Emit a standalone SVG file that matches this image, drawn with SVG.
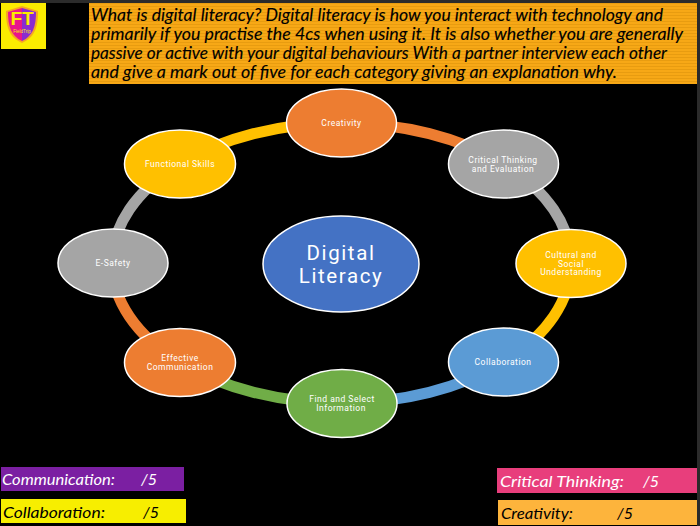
<svg xmlns="http://www.w3.org/2000/svg" width="700" height="526" viewBox="0 0 700 526">
<style>
.n{stroke:#fff;stroke-width:1.5}
.l{font-family:"Roboto","Liberation Sans",sans-serif;font-size:8.500px;font-weight:400;fill:#fff;text-anchor:middle;letter-spacing:.5px}
.c{font-family:"Roboto","Liberation Sans",sans-serif;font-size:20.500px;fill:#fff;text-anchor:middle;letter-spacing:1.600px}
.h{font-family:"Lato","Noto Sans",sans-serif;font-size:16.500px;fill:#000;font-style:italic;stroke:#000;stroke-width:.12}
.s{font-family:"Lato","Noto Sans",sans-serif;font-size:16px;font-style:italic}
.a{fill:none;stroke-width:11}
</style>
<defs>
<pattern id="st" width="4" height="3" patternUnits="userSpaceOnUse"><rect width="4" height="3" fill="#f7a816"/><rect width="4" height="1" fill="#e89c10"/></pattern>
</defs>
<rect width="700" height="526" fill="#000"/>
<rect width="700" height="3" fill="#2b2b2b"/>
<rect x="697" width="3" height="526" fill="#2b2b2b"/>
<g id="logo">
<rect x="1" y="3" width="45" height="46" fill="#fbec00"/>
<path d="M22 6 L38 11 C38 27 35 37 22 43 C9 37 6 27 6 11 Z" fill="#f6a623"/>
<path d="M22 8 L22 41 C11 36 8 26 8 12 Z" fill="#e8148c"/>
<path d="M22 8 L36 12 C36 26 33 36 22 41 Z" fill="#8a2bd0"/>
<text x="22" y="25" font-family="Liberation Sans,sans-serif" font-size="19" font-weight="700" fill="#fbec00" text-anchor="middle">FT<tspan x="22" y="32.500" font-size="4.500" font-weight="400">FieldTrip</tspan></text>
</g>
<g id="intro">
<rect x="89" y="3" width="608" height="81" fill="url(#st)"/>
<text class="h" x="91" y="21" textLength="572" lengthAdjust="spacingAndGlyphs">What is digital literacy? Digital literacy is how you interact with technology and</text>
<text class="h" x="91" y="40" textLength="592" lengthAdjust="spacingAndGlyphs">primarily if you practise the 4cs when using it. It is also whether you are generally</text>
<text class="h" x="91" y="59" textLength="576" lengthAdjust="spacingAndGlyphs">passive or active with your digital behaviours With a partner interview each other</text>
<text class="h" x="91" y="78" textLength="526" lengthAdjust="spacingAndGlyphs">and give a mark out of five for each category giving an explanation why.</text>
</g>
<g id="connectors">
<path class="a" stroke="#ed7d31" d="M341.500 123 A229.500 140 0 0 1 503.800 164"/>
<path class="a" stroke="#a5a5a5" d="M503.800 164 A229.500 140 0 0 1 571 263"/>
<path class="a" stroke="#ffc000" d="M571 263 A229.500 140 0 0 1 503.800 362"/>
<path class="a" stroke="#5b9bd5" d="M503.800 362 A229.500 140 0 0 1 341.500 403"/>
<path class="a" stroke="#70ad47" d="M341.500 403 A229.500 140 0 0 1 179.200 362"/>
<path class="a" stroke="#ed7d31" d="M179.200 362 A229.500 140 0 0 1 112 263"/>
<path class="a" stroke="#a5a5a5" d="M112 263 A229.500 140 0 0 1 179.200 164"/>
<path class="a" stroke="#ffc000" d="M179.200 164 A229.500 140 0 0 1 341.500 123"/>
</g>
<g id="center"><ellipse class="n" cx="341" cy="264" rx="78" ry="48" fill="#4472c4"/>
<text class="c" x="341" y="260">Digital<tspan x="341" y="283">Literacy</tspan></text></g>
<g id="creativity"><ellipse class="n" cx="341.500" cy="123" rx="55" ry="34" fill="#ed7d31"/><text class="l" x="341.500" y="126">Creativity</text></g>
<g id="critical"><ellipse class="n" cx="503.500" cy="164" rx="55" ry="34" fill="#a5a5a5"/><text class="l" x="503" y="163">Critical Thinking<tspan x="503" y="171.500">and Evaluation</tspan></text></g>
<g id="cultural"><ellipse class="n" cx="571" cy="263.500" rx="55" ry="34" fill="#ffc000"/><text class="l" x="571" y="258">Cultural and<tspan x="571" y="266.500">Social</tspan><tspan x="571" y="275">Understanding</tspan></text></g>
<g id="collaboration"><ellipse class="n" cx="503.500" cy="362" rx="55" ry="34" fill="#5b9bd5"/><text class="l" x="503" y="365">Collaboration</text></g>
<g id="find"><ellipse class="n" cx="342" cy="403.500" rx="55" ry="34" fill="#70ad47"/><text class="l" x="342" y="402">Find and Select<tspan x="341" y="410.500">Information</tspan></text></g>
<g id="effective"><ellipse class="n" cx="180" cy="362.500" rx="55.500" ry="34" fill="#ed7d31"/><text class="l" x="180" y="361">Effective<tspan x="180" y="369.500">Communication</tspan></text></g>
<g id="esafety"><ellipse class="n" cx="113" cy="263" rx="55" ry="34" fill="#a5a5a5"/><text class="l" x="113" y="266">E-Safety</text></g>
<g id="functional"><ellipse class="n" cx="180" cy="164" rx="55.500" ry="34" fill="#ffc000"/><text class="l" x="180" y="167">Functional Skills</text></g>
<g id="score-communication"><rect x="1" y="467" width="183" height="24" fill="#7b1fa2"/><text class="s" fill="#fff" x="2" y="485" textLength="113" lengthAdjust="spacingAndGlyphs">Communication:</text><text class="s" fill="#fff" x="141" y="485">/5</text></g>
<g id="score-collaboration"><rect x="1" y="499" width="185" height="24" fill="#f7ee00"/><text class="s" fill="#000" x="3" y="518" textLength="102" lengthAdjust="spacingAndGlyphs">Collaboration:</text><text class="s" fill="#000" x="143" y="518">/5</text></g>
<g id="score-critical"><rect x="497" y="468" width="200" height="25" fill="#e83e7c"/><text class="s" fill="#fff" x="500" y="487" textLength="124" lengthAdjust="spacingAndGlyphs">Critical Thinking:</text><text class="s" fill="#fff" x="643" y="487">/5</text></g>
<g id="score-creativity"><rect x="498" y="500" width="199" height="25" fill="#fdb43c"/><text class="s" fill="#000" x="501" y="519" textLength="72" lengthAdjust="spacingAndGlyphs">Creativity:</text><text class="s" fill="#000" x="617" y="519">/5</text></g>
</svg>
